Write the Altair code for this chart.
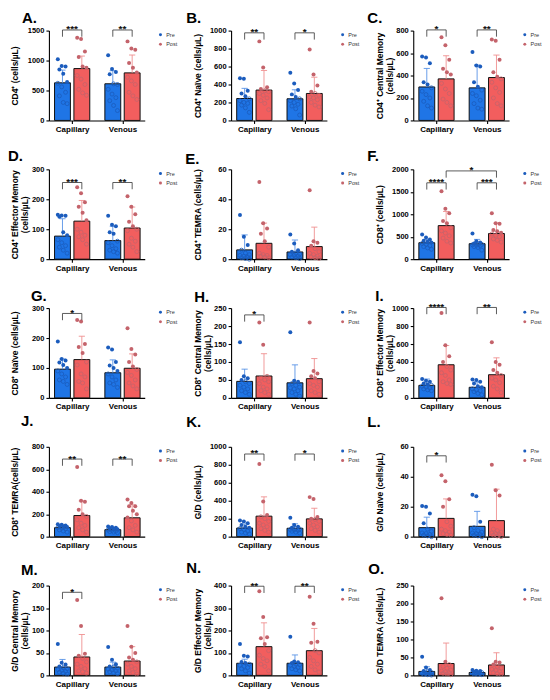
import altair as alt
import pandas as pd

LETTERS = ["A", "B", "C", "D", "E", "F", "G", "H", "I", "J", "K", "L", "M", "N", "O"]
SITES = ["Capillary", "Venous"]
TIMES = ["Pre", "Post"]

Y_TITLES = [
    "CD4⁺ (cells/µL)",
    "CD4⁺ Naïve (cells/µL)",
    ["CD4⁺ Central Memory", "(cells/µL)"],
    ["CD4⁺ Effector Memory", "(cells/µL)"],
    "CD4⁺ TEMRA (cells/µL)",
    "CD8⁺ (cells/µL)",
    "CD8⁺ Naïve (cells/µL)",
    ["CD8⁺ Central Memory", "(cells/µL)"],
    ["CD8⁺ Effector Memory", "(cells/µL)"],
    "CD8⁺ TEMRA(cells/µL)",
    "G/D (cells/µL)",
    "G/D Naïve (cells/µL)",
    ["G/D Central Memory", "(cells/µL)"],
    ["G/D Effector Memory", "(cells/µL)"],
    "G/D TEMRA (cells/µL)",
]
Y_MAX = [1500, 1000, 800, 300, 60, 2000, 300, 250, 1000, 800, 1000, 60, 200, 400, 250]
Y_STEP = [500, 200, 200, 100, 20, 500, 100, 50, 200, 200, 200, 20, 50, 100, 50]

# order in each list: Capillary Pre, Capillary Post, Venous Pre, Venous Post
MEANS = [
    [628, 866, 612, 794],
    [244, 338, 241, 300],
    [298, 370, 290, 382],
    [77, 127, 62, 104],
    [6.2, 10.6, 4.8, 8.4],
    [366, 747, 344, 571],
    [96, 128, 84, 99],
    [46, 61, 42, 53.5],
    [140, 369, 118, 258],
    [80, 188, 62, 168],
    [96, 228, 93, 198],
    [6, 12.2, 6.9, 10.7],
    [18.5, 41, 18.5, 32],
    [54, 128, 54, 110],
    [11, 33, 8, 29],
]
SDS = [
    [212, 209, 218, 298],
    [113, 218, 100, 181],
    [165, 206, 203, 200],
    [58, 69, 48, 70],
    [10, 13.5, 8, 13],
    [74, 315, 96, 235],
    [34, 78, 43, 48],
    [34, 62, 50, 56],
    [70, 214, 60, 188],
    [25, 130, 20, 115],
    [45, 215, 50, 118],
    [7, 13, 10, 21],
    [17, 50, 11, 32],
    [18, 106, 37, 99],
    [13, 57, 4, 34],
]
POINTS = [
    [[1020, 910, 900, 850, 780, 640, 620, 560, 470, 410, 300, 280],
     [1380, 1360, 1150, 1060, 900, 880, 750, 690, 600, 520, 460, 420],
     [1090, 860, 810, 770, 610, 600, 520, 440, 380, 330, 250, 165],
     [1320, 1200, 1180, 960, 880, 800, 720, 660, 600, 470, 410, 350]],
    [[470, 465, 330, 300, 270, 240, 220, 200, 190, 170, 140, 90],
     [880, 590, 370, 350, 330, 320, 300, 280, 250, 220, 190, 120],
     [530, 410, 340, 290, 260, 240, 220, 200, 180, 160, 130, 60],
     [790, 510, 390, 320, 300, 280, 260, 250, 230, 200, 170, 150]],
    [[570, 560, 510, 340, 320, 290, 260, 230, 200, 170, 130, 110],
     [740, 670, 540, 460, 430, 410, 330, 280, 240, 190, 160, 130],
     [610, 490, 480, 340, 300, 270, 240, 220, 180, 150, 110, 100],
     [720, 710, 540, 430, 390, 370, 340, 290, 250, 200, 150, 130]],
    [[148, 146, 145, 142, 90, 80, 65, 55, 45, 40, 30, 20],
     [240, 220, 190, 175, 155, 130, 100, 90, 80, 75, 65, 50],
     [145, 115, 110, 90, 85, 60, 55, 45, 35, 30, 25, 20],
     [210, 175, 150, 125, 110, 100, 95, 70, 60, 50, 40, 25]],
    [[29.5, 15, 9.5, 6, 4, 3, 2.5, 2, 1.5, 1, 0.5, 0],
     [51.5, 24, 20.5, 17, 12, 8, 4, 3, 2.5, 2, 1.5, 1],
     [16.5, 10.5, 6, 5, 4, 3.5, 3, 2.5, 2, 1.5, 1, 0.5],
     [46, 12, 11, 9, 7, 5, 4, 3, 2, 1.5, 1, 0.5]],
    [[550, 480, 440, 410, 390, 370, 350, 330, 300, 280, 250, 220],
     [1510, 1120, 1020, 850, 800, 700, 630, 580, 520, 470, 400, 360],
     [570, 400, 370, 350, 340, 330, 320, 310, 300, 280, 260, 200],
     [1020, 800, 790, 650, 620, 590, 560, 530, 500, 450, 420, 380]],
    [[188, 130, 125, 118, 110, 100, 90, 80, 70, 60, 55, 45],
     [260, 255, 180, 170, 150, 120, 110, 80, 70, 55, 50, 30],
     [168, 162, 120, 108, 100, 90, 80, 70, 60, 50, 45, 35],
     [233, 163, 145, 120, 105, 95, 85, 75, 60, 50, 40, 30]],
    [[155, 60, 55, 50, 45, 40, 35, 30, 25, 20, 15, 10],
     [210, 148, 60, 55, 50, 45, 40, 30, 25, 20, 15, 10],
     [183, 48, 45, 40, 35, 30, 28, 25, 20, 15, 10, 5],
     [210, 75, 68, 60, 55, 45, 40, 35, 30, 20, 15, 10]],
    [[210, 190, 180, 160, 150, 140, 130, 120, 110, 100, 90, 80],
     [945, 585, 465, 400, 350, 310, 280, 250, 200, 180, 160, 150],
     [205, 200, 180, 160, 130, 120, 100, 90, 80, 70, 50, 35],
     [620, 400, 370, 310, 280, 250, 220, 200, 170, 130, 100, 60]],
    [[110, 105, 100, 95, 90, 85, 80, 75, 70, 60, 50, 40],
     [620, 320, 310, 240, 200, 180, 150, 120, 100, 80, 60, 40],
     [90, 85, 80, 75, 70, 65, 60, 55, 50, 45, 40, 35],
     [330, 300, 270, 270, 230, 200, 170, 140, 100, 80, 60, 40]],
    [[180, 170, 150, 130, 110, 100, 90, 80, 60, 50, 40, 30],
     [810, 390, 240, 220, 200, 170, 150, 130, 110, 90, 70, 50],
     [210, 130, 110, 100, 90, 85, 80, 75, 70, 60, 50, 40],
     [440, 420, 220, 200, 190, 170, 150, 130, 110, 90, 70, 50]],
    [[20.5, 20, 15.5, 9, 5, 3.5, 2.5, 2, 1.5, 1, 0.5, 0],
     [41, 37, 25, 20, 10, 7, 5, 4, 3, 2, 1.5, 1],
     [28, 27, 10, 6, 4, 3, 2.5, 2, 1.5, 1, 0.5, 0],
     [48, 31, 27.5, 5, 4, 3, 2.5, 2, 1.5, 1, 0.5, 0]],
    [[70, 28, 24, 20, 17, 15, 13, 11, 9, 7, 5, 3],
     [168, 110, 48, 44, 38, 30, 25, 20, 15, 10, 8, 5],
     [63, 35, 25, 20, 18, 16, 14, 12, 10, 8, 6, 4],
     [110, 64, 50, 40, 35, 30, 25, 20, 15, 10, 6, 3]],
    [[140, 87, 84, 60, 55, 50, 45, 40, 35, 30, 20, 10],
     [375, 260, 170, 165, 140, 110, 90, 75, 65, 50, 40, 20],
     [172, 62, 58, 55, 50, 48, 45, 40, 35, 30, 25, 20],
     [350, 230, 150, 145, 110, 100, 80, 65, 50, 40, 25, 15]],
    [[52, 22, 15, 12, 10, 8, 6, 5, 4, 3, 2, 1],
     [215, 38, 30, 25, 20, 15, 12, 10, 8, 6, 4, 2],
     [15, 13, 12, 10, 9, 8, 7, 6, 5, 4, 3, 2],
     [131, 38, 36, 30, 25, 20, 17, 14, 11, 8, 5, 3]],
]
# significance brackets: (left group, right group, height, label); groups 0..3 as above
BRACKETS = [
    [(0, 1, 1510, "***"), (2, 3, 1510, "**")],
    [(0, 1, 975, "**"), (2, 3, 975, "*")],
    [(0, 1, 806, "*"), (2, 3, 806, "**")],
    [(0, 1, 256, "***"), (2, 3, 256, "**")],
    [],
    [(0, 1, 1700, "****"), (2, 3, 1700, "***"), (1, 3, 1965, "*")],
    [(0, 1, 282, "*")],
    [(0, 1, 231, "*")],
    [(0, 1, 1007, "****"), (2, 3, 1007, "**")],
    [(0, 1, 691, "**"), (2, 3, 691, "**")],
    [(0, 1, 920, "**"), (2, 3, 920, "*")],
    [(0, 1, 54, "*")],
    [(0, 1, 185, "*")],
    [(0, 1, 397, "**"), (2, 3, 397, "**")],
    [],
]

BAR_COLORS = ["#1f75e6", "#f25e5e"]
DOT_COLORS = ["#1b5cbd", "#c4636b"]
ERR_COLORS = ["#5a94e6", "#ef8f8f"]
FONT = "Liberation Sans"

# panel letter placement relative to each plot's top-left corner
LETTER_DX = [-27, -45, -46, -41, -46, -46, -18, -37, -38, -28, -45, -46, -28, -45, -45]
LETTER_DY = [-7.5, -7.5, -8, -8, -5, -8, -7, -6, -7, -21, -20, -20, -11, -13, -12]

PW, PH = 96, 90

bar_rows, pt_rows, br_rows, st_rows = [], [], [], []
for pi, L in enumerate(LETTERS):
    for g in range(4):
        site, time = SITES[g // 2], TIMES[g % 2]
        m = MEANS[pi][g]
        bar_rows.append(dict(panel=L, site=site, time=time, mean=m, sd=SDS[pi][g]))
        for i, v in enumerate(POINTS[pi][g]):
            pt_rows.append(dict(panel=L, site=site, time=time, value=v, mean=m, i=i))
    leg = 0.075 * Y_MAX[pi]
    for bi, (gl, gr, h, lab) in enumerate(BRACKETS[pi]):
        for k, (g, yv) in enumerate([(gl, h - leg), (gl, h), (gr, h), (gr, h - leg)]):
            br_rows.append(dict(panel=L, bid=bi, k=k, g=g, y=yv))
        st_rows.append(dict(panel=L, gl=gl, gr=gr, h=h, label=lab))

bars_df = pd.DataFrame(bar_rows)
pts_df = pd.DataFrame(pt_rows)
br_df = pd.DataFrame(br_rows)
st_df = pd.DataFrame(st_rows)

POS = "indexof(['Capillary','Venous'], datum.site) * 2.6 + indexof(['Pre','Post'], datum.time)"
GPOS = "floor({g} / 2) * 2.6 + {g} % 2"
BAR_FILL = f"datum.time == 'Pre' ? '{BAR_COLORS[0]}' : '{BAR_COLORS[1]}'"
ERR_STROKE = f"datum.time == 'Pre' ? '{ERR_COLORS[0]}' : '{ERR_COLORS[1]}'"


def panel(pi):
    L = LETTERS[pi]
    ymax = Y_MAX[pi]
    ysc = alt.Scale(domain=[0, ymax], nice=False)
    xsc = alt.Scale(domain=[-0.7, 4.25], nice=False, zero=False)
    yax = alt.Axis(values=list(range(0, ymax + 1, Y_STEP[pi])), title=Y_TITLES[pi], format="d",
                   titleX=-34, titleBaseline="middle", titleLineHeight=10)
    xax = alt.Axis(values=[0.5, 3.1], labelExpr="datum.value < 2 ? 'Capillary' : 'Venous'",
                   title=None)

    def X(f):
        return alt.X(f, type="quantitative", scale=xsc, axis=xax)

    def Y(f):
        return alt.Y(f, type="quantitative", scale=ysc, axis=yax)

    bbase = (alt.Chart(bars_df).transform_filter(alt.datum.panel == L)
             .transform_calculate(pos=POS, barfill=BAR_FILL, errstroke=ERR_STROKE)
             .transform_calculate(x1="datum.pos - 0.41", x2="datum.pos + 0.41",
                                  c1="datum.pos - 0.16", c2="datum.pos + 0.16",
                                  top="datum.mean + datum.sd", zero="0"))
    bars = bbase.mark_rect(stroke="#111111", strokeWidth=1).encode(
        x=X("x1"), x2="x2:Q", y=Y("mean"), y2="zero:Q",
        fill=alt.Fill("barfill:N", scale=None),
    )
    errstroke = alt.Stroke("errstroke:N", scale=None)
    err = bbase.mark_rule(strokeWidth=0.9).encode(x=X("pos"), y=Y("mean"), y2="top:Q", stroke=errstroke)
    cap = bbase.mark_rule(strokeWidth=0.9).encode(x=X("c1"), x2="c2:Q", y=Y("top"), stroke=errstroke)

    pbase = (alt.Chart(pts_df).transform_filter(alt.datum.panel == L)
             .transform_calculate(pos=POS)
             .transform_calculate(
                 px="datum.pos + (datum.i % 3 - 1) * 0.2 + ((floor(datum.i / 3) % 2) - 0.5) * 0.08"))
    dotcolor = alt.Color("time:N", scale=alt.Scale(domain=TIMES, range=DOT_COLORS),
                         legend=alt.Legend(title=None, symbolType="circle", orient="none",
                                           legendX=PW + 13, legendY=1.5))
    filled = pbase.transform_filter("datum.value > datum.mean").mark_circle(size=16, opacity=1).encode(
        x=X("px"), y=Y("value"), color=dotcolor)
    rings = pbase.transform_filter("datum.value <= datum.mean").mark_point(
        size=16, filled=False, strokeWidth=0.8, opacity=1, shape="circle").encode(
        x=X("px"), y=Y("value"), color=dotcolor)

    layers = [bars, err, cap, filled, rings]

    if BRACKETS[pi]:
        brk = (alt.Chart(br_df).transform_filter(alt.datum.panel == L)
               .transform_calculate(pos=GPOS.format(g="datum.g"))
               .mark_line(stroke="#333333", strokeWidth=0.8)
               .encode(x=X("pos"), y=Y("y"), detail="bid:N", order="k:Q"))
        stars = (alt.Chart(st_df).transform_filter(alt.datum.panel == L)
                 .transform_calculate(xm="(" + GPOS.format(g="datum.gl") + " + " + GPOS.format(g="datum.gr") + ") / 2")
                 .mark_text(font=FONT, fontSize=10, fontWeight="bold", color="#111111",
                            baseline="alphabetic", dy=2.5)
                 .encode(x=X("xm"), y=Y("h"), text="label:N"))
        layers += [brk, stars]

    letter = (alt.Chart(pd.DataFrame({"letter": [L + "."]}))
              .mark_text(font=FONT, fontSize=15, fontWeight="bold", color="#000000",
                         align="left", baseline="alphabetic")
              .encode(text="letter:N", x=alt.value(LETTER_DX[pi]), y=alt.value(LETTER_DY[pi])))
    layers.append(letter)

    return alt.layer(*layers).properties(width=PW, height=PH)


RES = dict(color="independent", x="independent", y="independent")

chart = (alt.concat(*[panel(i) for i in range(15)], columns=3,
                    spacing={"row": 49, "column": 86.5}, bounds="flush")
         .resolve_scale(**RES).resolve_legend(color="independent")
         .properties(padding={"left": 0, "top": 2, "right": 0, "bottom": 0})
         .configure(font=FONT)
         .configure_view(stroke=None)
         .configure_axis(grid=False, domainColor="#000000", domainWidth=1.1,
                         tickColor="#000000", tickWidth=1.1, tickSize=3,
                         labelFont=FONT, labelFontWeight="bold", labelColor="#000000",
                         labelFontSize=7.5, labelPadding=2,
                         titleFont=FONT, titleFontWeight="bold", titleFontSize=8.5,
                         titleColor="#000000")
         .configure_axisX(labelFontSize=8, labelPadding=2)
         .configure_legend(padding=0, rowPadding=2.4, labelFont=FONT, labelFontSize=5.5,
                           labelColor="#333333", symbolSize=9, symbolStrokeWidth=0,
                           labelOffset=3))

chart.save("out.html", embed_options={"renderer": "svg", "actions": False})
